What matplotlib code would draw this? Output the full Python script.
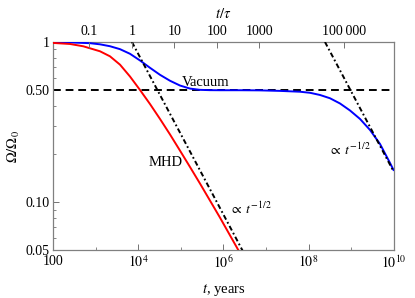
import matplotlib
matplotlib.use("Agg")
import matplotlib.pyplot as plt
from matplotlib.ticker import FixedLocator, NullFormatter, NullLocator

plt.rcParams['font.family'] = ['Liberation Serif', 'DejaVu Serif']
plt.rcParams['mathtext.fontset'] = 'stix'

# ---- data ----
tau = 7.0e3  # years

vac_t = [1.0e2, 2.44e2, 7.22e2, 1.242e3, 2.133e3, 3.672e3, 6.31e3, 1.084e4,
         1.866e4, 3.206e4, 5.51e4, 9.47e4, 1.629e5, 2.80e5, 4.81e5, 8.27e5,
         2.44e6, 7.2e6, 2.13e7, 3.67e7, 6.31e7, 1.084e8, 1.866e8, 3.206e8,
         5.51e8, 9.47e8, 1.629e9, 2.80e9, 4.81e9, 8.27e9, 1.0e10]
vac_omega = [0.997, 0.994, 0.983, 0.967, 0.941, 0.902, 0.844, 0.767,
             0.690, 0.624, 0.573, 0.535, 0.512, 0.5027, 0.5005, 0.500,
             0.500, 0.499, 0.4953, 0.4923, 0.4894, 0.482, 0.467, 0.4455,
             0.4134, 0.3738, 0.331, 0.2825, 0.2311, 0.1759, 0.159]

mhd_t = [1.0e2, 2.44e2, 5.03e2, 1.242e3, 2.133e3, 3.672e3, 6.31e3, 1.084e4,
         1.866e4, 3.206e4, 5.51e4, 9.47e4, 1.629e5, 2.80e5, 8.27e5, 2.25e6]
mhd_omega = [0.986, 0.972, 0.940, 0.875, 0.814, 0.722, 0.609, 0.502,
             0.410, 0.331, 0.265, 0.210, 0.166, 0.1308, 0.0802, 0.0501]

asym1_t = [7.0e3, 2.8e6]
asym1_omega = [1.0, 0.05]
asym2_t = [2.44e8, 1.0e10]
asym2_omega = [1.0, 0.156]

plateau = 0.5

bottom_ticks = [1e2, 1e4, 1e6, 1e8, 1e10]
bottom_labels = ['100', r'$10^4$', r'$10^6$', r'$10^8$', r'$10^{10}$']
bottom_minor = [1e3, 1e5, 1e7, 1e9]
left_ticks = [1.0, 0.5, 0.1, 0.05]
left_labels = ['1', '0.50', '0.10', '0.05']
left_minor = [0.06, 0.07, 0.08, 0.09, 0.2, 0.3, 0.4, 0.6, 0.7, 0.8, 0.9]
top_ticks = [0.1, 1, 10, 100, 1000, 1e5]
top_labels = ['0.1', '1', '10', '100', '1000', '100\u2009000']

# ---- figure ----
fig = plt.figure(figsize=(4.15, 2.98), dpi=100)
ax = fig.add_axes([0.1289, 0.1594, 0.8193, 0.6997])
ax.set_xscale('log')
ax.set_yscale('log')
ax.set_xlim(1e2, 1e10)
ax.set_ylim(0.05, 1.0)

ax.axhline(plateau, color='black', lw=1.4, ls=(0, (4.0, 2.5)), zorder=2)
ax.plot(vac_t, vac_omega, color='blue', lw=1.4, zorder=3)
ax.plot(mhd_t, mhd_omega, color='red', lw=1.4, zorder=3)
ax.plot(asym1_t, asym1_omega, color='black', lw=1.4,
        ls=(0, (2.6, 1.4, 0.9, 1.4)), zorder=4)
ax.plot(asym2_t, asym2_omega, color='black', lw=1.4,
        ls=(0, (2.6, 1.4, 0.9, 1.4)), zorder=4)

fs = 10
ax.xaxis.set_major_locator(FixedLocator(bottom_ticks))
ax.set_xticklabels(bottom_labels, fontsize=fs)
ax.xaxis.set_minor_locator(FixedLocator(bottom_minor))
ax.xaxis.set_minor_formatter(NullFormatter())
ax.yaxis.set_major_locator(FixedLocator(left_ticks))
ax.set_yticklabels(left_labels, fontsize=fs)
ax.yaxis.set_minor_locator(FixedLocator(left_minor))
ax.yaxis.set_minor_formatter(NullFormatter())
ax.tick_params(which='major', direction='in', length=4, width=0.7, color='0.45', pad=3)
ax.tick_params(which='minor', direction='in', length=2.2, width=0.6, color='0.45')
ax.tick_params(axis='x', which='both', top=False)

for s in ax.spines.values():
    s.set_color('0.5')
    s.set_linewidth(0.9)

ax2 = ax.twiny()
ax2.set_xscale('log')
ax2.set_xlim(1e2 / tau, 1e10 / tau)
ax2.xaxis.set_major_locator(FixedLocator(top_ticks))
ax2.set_xticklabels(top_labels, fontsize=fs)
ax2.xaxis.set_minor_locator(NullLocator())
ax2.tick_params(which='major', direction='in', length=4, width=0.7, color='0.45', pad=3)
for s in ax2.spines.values():
    s.set_visible(False)

ax.set_xlabel(r'$t$, years', fontsize=10.5, labelpad=8)
ax2.set_xlabel(r'$t/\tau$', fontsize=10.5, labelpad=5)
ax.set_ylabel(r'$\Omega/\Omega_0$', fontsize=10.5, labelpad=2)

ax.text(1.06e5, 0.531, 'Vacuum', fontsize=10.5, ha='left', va='baseline')
ax.text(4.32e4, 0.177, 'MHD', fontsize=10.5, ha='center', va='center')
ax.text(1.35e6, 0.0908, r'$\propto\ t^{-1/2}$', fontsize=10, ha='left', va='center')
ax.text(2.88e8, 0.2135, r'$\propto\ t^{-1/2}$', fontsize=10, ha='left', va='center')

fig.savefig('out.png', dpi=100)
